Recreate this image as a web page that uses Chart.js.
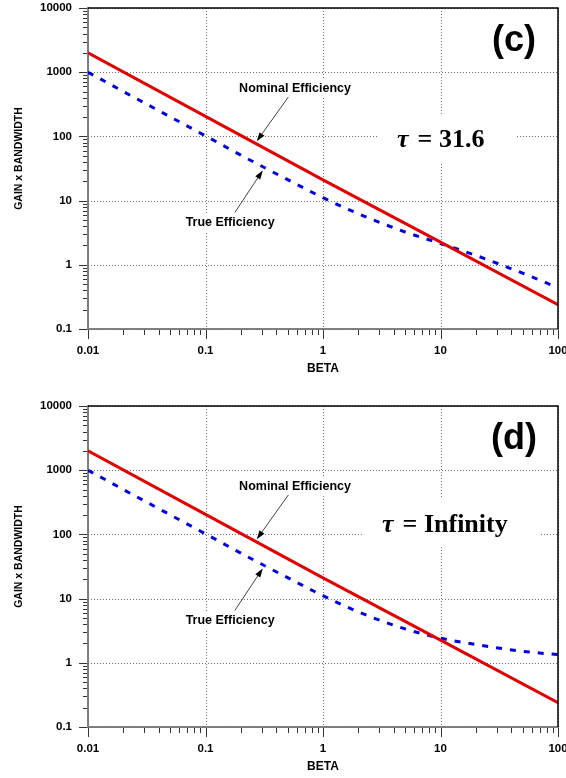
<!DOCTYPE html>
<html>
<head>
<meta charset="utf-8">
<script src="https://cdn.jsdelivr.net/npm/chart.js@4.4.1/dist/chart.umd.min.js"></script>
<style>
  html, body { margin: 0; padding: 0; background: #fff; overflow: hidden; }
  .panel { position: absolute; left: 0; width: 566px; height: 389px; }
  #panelC { top: 0; }
  #panelD { top: 398px; }
</style>
</head>
<body>
<div class="panel" id="panelC"><canvas id="chartC" width="566" height="389"></canvas></div>
<div class="panel" id="panelD"><canvas id="chartD" width="566" height="389"></canvas></div>
<script>
// axes (log-log)
const betaDecades = [0.01, 0.1, 1, 10, 100];
const gainDecades = [0.1, 1, 10, 100, 1000, 10000];

// nominal efficiency: straight line on log-log axes
const betaNominal = [0.01, 0.1, 1, 10, 100];
const nominalEff = [2000, 205, 21, 2.25, 0.24];

// true efficiency for tau = 31.6 and tau = infinity
const betaTrue = [0.01, 0.02, 0.05, 0.1, 0.2, 0.5, 1, 2, 5, 10, 20, 50, 100];
const trueEffTau316 = [1000, 500, 202, 102, 51, 21.2, 11.1, 6.25, 3.24, 2.15, 1.40, 0.74, 0.44];
const trueEffTauInf = [1000, 500, 202, 102, 51, 21.2, 11.1, 6.2, 3.37, 2.42, 1.93, 1.51, 1.34];

const SANS = '"Liberation Sans", Arial, sans-serif';
const SERIF = '"Liberation Serif", "Times New Roman", serif';

// 1..9 x 10^n ticks between two decades
function logTicks(decades) {
  const out = [];
  decades.forEach((d, i) => {
    out.push({ value: d, major: true });
    if (i < decades.length - 1) {
      for (let m = 2; m <= 9; m++) out.push({ value: Number((m * d).toPrecision(6)), major: false });
    }
  });
  return out;
}

function arrow(ctx, x1, y1, x2, y2) {
  const a = Math.atan2(y2 - y1, x2 - x1);
  const c = Math.cos(a), s = Math.sin(a);
  ctx.strokeStyle = '#444';
  ctx.lineWidth = 1;
  ctx.beginPath();
  ctx.moveTo(x1, y1);
  ctx.lineTo(x2 - 6 * c, y2 - 6 * s);
  ctx.stroke();
  ctx.fillStyle = '#000';
  ctx.beginPath();
  ctx.moveTo(x2, y2);
  ctx.lineTo(x2 - 9 * c + 3 * s, y2 - 9 * s - 3 * c);
  ctx.lineTo(x2 - 9 * c - 3 * s, y2 - 9 * s + 3 * c);
  ctx.closePath();
  ctx.fill();
}

const frame = {
  id: 'frame',
  beforeDatasetsDraw(chart, args, opts) {
    const { ctx, chartArea: a, scales: { x, y } } = chart;
    ctx.save();
    // dotted grid at the decades
    ctx.strokeStyle = '#707070';
    ctx.lineWidth = 1;
    ctx.setLineDash([1, 2]);
    betaDecades.forEach(b => {
      const px = Math.round(x.getPixelForValue(b)) + 0.5;
      ctx.beginPath(); ctx.moveTo(px, a.top); ctx.lineTo(px, a.bottom); ctx.stroke();
    });
    gainDecades.forEach(g => {
      const py = Math.round(y.getPixelForValue(g)) + 0.5;
      ctx.beginPath(); ctx.moveTo(a.left, py); ctx.lineTo(a.right, py); ctx.stroke();
    });
    ctx.setLineDash([]);

    // tau label on a white box
    const tx = x.getPixelForValue(opts.tauAt[0]);
    const ty = y.getPixelForValue(opts.tauAt[1]);
    ctx.font = 'italic bold 26px ' + SERIF;
    const wTau = ctx.measureText('\u03C4').width;
    ctx.font = 'bold 26px ' + SERIF;
    const wVal = ctx.measureText('= ' + opts.tau).width;
    const gap = 9;
    ctx.fillStyle = '#fff';
    ctx.fillRect(tx - 20, ty - 33, wTau + gap + wVal + 52, 48);
    ctx.fillStyle = '#000';
    ctx.textBaseline = 'alphabetic';
    ctx.textAlign = 'left';
    ctx.font = 'italic bold 26px ' + SERIF;
    ctx.fillText('\u03C4', tx, ty);
    ctx.font = 'bold 26px ' + SERIF;
    ctx.fillText('= ' + opts.tau, tx + wTau + gap, ty);

    // curve names
    ctx.font = 'bold 12.5px ' + SANS;
    ctx.textAlign = 'center';
    ctx.textBaseline = 'middle';
    opts.notes.forEach(n => {
      const nx = x.getPixelForValue(n.at[0]);
      const ny = y.getPixelForValue(n.at[1]);
      const w = ctx.measureText(n.text).width;
      ctx.fillStyle = '#fff';
      ctx.fillRect(nx - w / 2 - 3, ny - 9, w + 6, 18);
      ctx.fillStyle = '#000';
      ctx.fillText(n.text, nx, ny);
    });
    ctx.restore();
  },
  afterDatasetsDraw(chart, args, opts) {
    const { ctx, chartArea: a, scales: { x, y } } = chart;
    ctx.save();
    opts.notes.forEach(n => {
      arrow(ctx,
        x.getPixelForValue(n.tail[0]), y.getPixelForValue(n.tail[1]),
        x.getPixelForValue(n.tip[0]), y.getPixelForValue(n.tip[1]));
    });

    // top and right frame
    ctx.strokeStyle = '#000';
    ctx.lineWidth = 1.5;
    ctx.beginPath();
    ctx.moveTo(a.left, a.top);
    ctx.lineTo(a.right, a.top);
    ctx.lineTo(a.right, a.bottom);
    ctx.stroke();

    // tick marks, outside the plot
    ctx.strokeStyle = '#333';
    ctx.lineWidth = 1;
    y.ticks.forEach(t => {
      const py = Math.round(y.getPixelForValue(t.value)) + 0.5;
      const len = t.major ? 8 : 4;
      ctx.beginPath(); ctx.moveTo(a.left - 1 - len, py); ctx.lineTo(a.left - 1, py); ctx.stroke();
    });
    x.ticks.forEach(t => {
      const px = Math.round(x.getPixelForValue(t.value)) + 0.5;
      const len = t.major ? 9 : 5;
      ctx.beginPath(); ctx.moveTo(px, a.bottom + 1); ctx.lineTo(px, a.bottom + 1 + len); ctx.stroke();
    });

    // panel letter
    ctx.fillStyle = '#000';
    ctx.font = 'bold 36px ' + SANS;
    ctx.textAlign = 'center';
    ctx.textBaseline = 'alphabetic';
    ctx.fillText(opts.panel, 514, 51);

    // axis titles
    ctx.font = 'bold 12px ' + SANS;
    ctx.textBaseline = 'middle';
    ctx.fillText('BETA', (a.left + a.right) / 2, 369);
    ctx.translate(19, 158.5);
    ctx.rotate(-Math.PI / 2);
    ctx.font = 'bold 10.5px ' + SANS;
    ctx.fillText('GAIN x BANDWIDTH', 0, 0);
    ctx.restore();
  }
};

const notes = [
  { text: 'Nominal Efficiency', at: [0.578, 556], tail: [0.507, 411], tip: [0.273, 84] },
  { text: 'True Efficiency', at: [0.162, 4.58], tail: [0.178, 6.56], tip: [0.307, 29.5] }
];

function makeChart(id, trueEff, panel, tau, tauAt) {
  const tickFont = { family: SANS, size: 11.5, weight: 'bold' };
  return new Chart(document.getElementById(id), {
    type: 'line',
    data: {
      datasets: [
        {
          label: 'Nominal Efficiency',
          data: betaNominal.map((b, i) => ({ x: b, y: nominalEff[i] })),
          borderColor: '#e00000',
          borderWidth: 3,
          pointRadius: 0,
          tension: 0
        },
        {
          label: 'True Efficiency',
          data: betaTrue.map((b, i) => ({ x: b, y: trueEff[i] })),
          borderColor: '#0000e0',
          borderWidth: 3,
          borderDash: [6, 8],
          pointRadius: 0,
          cubicInterpolationMode: 'monotone'
        }
      ]
    },
    options: {
      responsive: false,
      animation: false,
      devicePixelRatio: 1,
      layout: { padding: { top: 8, right: 8, left: 0, bottom: 0 } },
      plugins: {
        legend: { display: false },
        tooltip: { enabled: false },
        frame: { panel, tau, tauAt, notes }
      },
      scales: {
        x: {
          type: 'logarithmic',
          min: 0.01,
          max: 100,
          afterBuildTicks: s => { s.ticks = logTicks(betaDecades); },
          afterFit: s => { s.height = 60; s.paddingLeft = 0; s.paddingRight = 0; },
          grid: { display: false, drawTicks: false },
          border: { display: true, color: '#808080', width: 2 },
          ticks: {
            autoSkip: false, maxRotation: 0, padding: 15, color: '#000', font: tickFont,
            callback: v => (betaDecades.includes(v) ? String(v) : '')
          }
        },
        y: {
          type: 'logarithmic',
          min: 0.1,
          max: 10000,
          afterBuildTicks: s => { s.ticks = logTicks(gainDecades); },
          afterFit: s => { s.width = 88; s.paddingTop = 0; s.paddingBottom = 0; },
          grid: { display: false, drawTicks: false },
          border: { display: true, color: '#808080', width: 2 },
          ticks: {
            autoSkip: false, padding: 16, color: '#000', font: tickFont,
            callback: v => (gainDecades.includes(v) ? String(v) : '')
          }
        }
      }
    },
    plugins: [frame]
  });
}

makeChart('chartC', trueEffTau316, '(c)', '31.6', [4.27, 68]);
makeChart('chartD', trueEffTauInf, '(d)', 'Infinity', [3.18, 109]);
</script>
</body>
</html>
